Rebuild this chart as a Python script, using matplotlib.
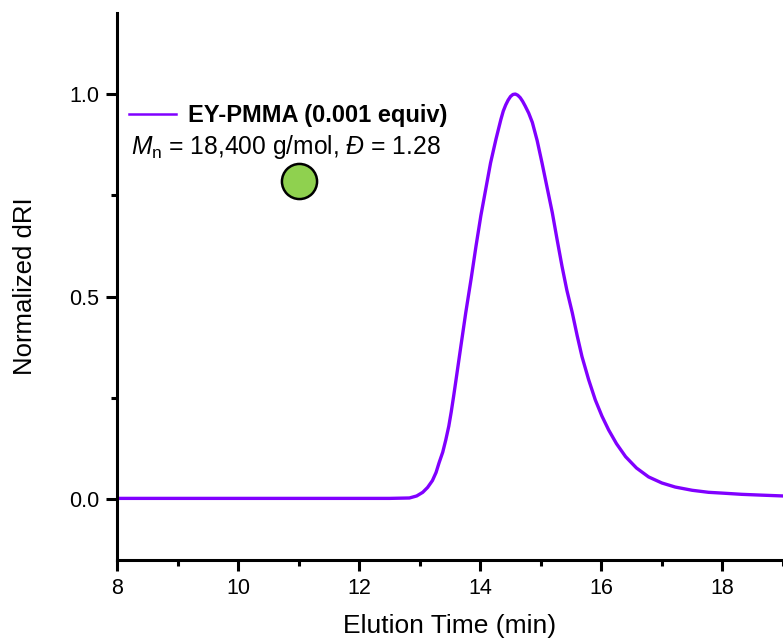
import matplotlib
matplotlib.use('Agg')
import matplotlib.pyplot as plt
from matplotlib.ticker import MultipleLocator

plt.rcParams['font.family'] = ['Liberation Sans', 'DejaVu Sans']
plt.rcParams['mathtext.fontset'] = 'custom'
plt.rcParams['mathtext.rm'] = 'Liberation Sans'
plt.rcParams['mathtext.it'] = 'Liberation Sans:italic'

# GPC trace (elution time in min, normalized dRI)
time_min = [8.0, 9.0, 10.0, 11.0, 12.0, 12.5, 12.83, 12.95, 13.05, 13.13,
            13.21, 13.27, 13.32, 13.38, 13.43, 13.48, 13.52, 13.56, 13.60,
            13.68, 13.76, 13.85, 13.93, 14.01, 14.09, 14.17, 14.26, 14.34,
            14.38, 14.42, 14.46, 14.50, 14.54, 14.58, 14.62, 14.66, 14.70,
            14.74, 14.80, 14.86, 14.94, 15.02, 15.10, 15.19, 15.27, 15.35,
            15.43, 15.52, 15.60, 15.68, 15.79, 15.90, 16.01, 16.12, 16.25,
            16.40, 16.58, 16.78, 17.0, 17.22, 17.5, 17.77, 18.0, 18.32,
            18.65, 19.0]
dri = [0.002, 0.002, 0.002, 0.002, 0.002, 0.002, 0.003, 0.008, 0.017, 0.029,
       0.046, 0.066, 0.090, 0.116, 0.146, 0.180, 0.215, 0.254, 0.295,
       0.378, 0.460, 0.545, 0.625, 0.700, 0.765, 0.830, 0.889, 0.937,
       0.958, 0.973, 0.985, 0.994, 0.999, 1.000, 0.997, 0.991, 0.982,
       0.971, 0.953, 0.930, 0.885, 0.830, 0.772, 0.707, 0.640, 0.575,
       0.516, 0.460, 0.404, 0.352, 0.295, 0.245, 0.205, 0.171, 0.137,
       0.105, 0.077, 0.055, 0.040, 0.030, 0.022, 0.017, 0.015, 0.012,
       0.010, 0.008]

series_label = 'EY-PMMA (0.001 equiv)'
info_text = r'$\mathit{M}_\mathrm{n}$ = 18,400 g/mol, $\mathit{Đ}$ = 1.28'
marker_x = [11.0]
marker_y = [0.785]

line_color = '#8000ff'
marker_color = '#8fd14f'

fig = plt.figure(figsize=(7.83, 6.38), dpi=100)
ax = fig.add_axes([0.1494, 0.1223, 0.8506, 0.8573])

ax.plot(time_min, dri, color=line_color, lw=2.4, solid_joinstyle='round',
        label=series_label)
ax.scatter(marker_x, marker_y, s=640, color=marker_color, edgecolor='black',
           linewidth=1.8, zorder=3)

ax.set_xlim(8, 19)
ax.set_ylim(-0.15, 1.2)
ax.xaxis.set_major_locator(MultipleLocator(2))
ax.xaxis.set_minor_locator(MultipleLocator(1))
ax.yaxis.set_major_locator(MultipleLocator(0.5))
ax.yaxis.set_minor_locator(MultipleLocator(0.25))
ax.yaxis.set_major_formatter(plt.FormatStrFormatter('%.1f'))

for side in ['top', 'right']:
    ax.spines[side].set_visible(False)
for side in ['left', 'bottom']:
    ax.spines[side].set_linewidth(2.2)

ax.tick_params(which='major', direction='out', length=8, width=2.2,
               labelsize=15.5, pad=5)
ax.tick_params(which='minor', direction='out', length=4.5, width=2.2)

ax.set_xlabel('Elution Time (min)', fontsize=19, labelpad=10.5)
ax.set_ylabel('Normalized dRI', fontsize=18.5, labelpad=23)

leg = ax.legend(loc='upper left', bbox_to_anchor=(0.018, 0.834),
                frameon=False, handlelength=2.0,
                handletextpad=0.5, borderpad=0, borderaxespad=0,
                prop={'weight': 'bold', 'size': 17})
for h in leg.get_lines():
    h.set_linewidth(1.8)

ax.text(8.23, 0.851, info_text, fontsize=17.7, va='baseline', ha='left')

fig.savefig('out.png', dpi=100)
